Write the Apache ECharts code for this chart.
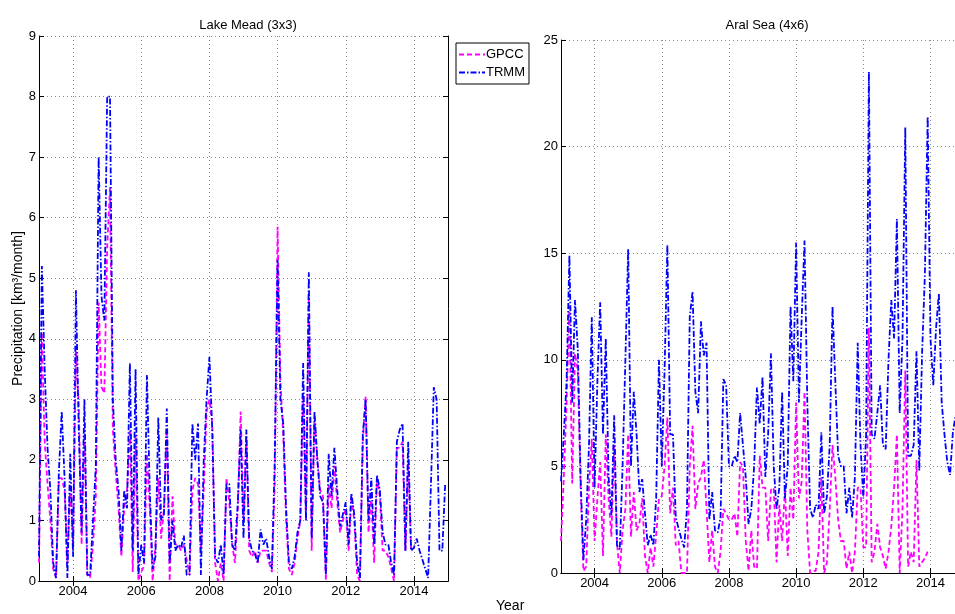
<!DOCTYPE html>
<html>
<head>
<meta charset="utf-8">
<title>Precipitation GPCC vs TRMM</title>
<script src="https://cdn.jsdelivr.net/npm/echarts@6/dist/echarts.min.js"></script>
<style>
  html, body { margin: 0; padding: 0; background: #fff; }
  #chart { width: 955px; height: 614px; }
</style>
</head>
<body>
<div id="chart"></div>
<script>
// monthly series, first value = Jan 2003
const startYear = 2003;
const yearTicks = [2004, 2006, 2008, 2010, 2012, 2014];
const meadTicks = [0, 1, 2, 3, 4, 5, 6, 7, 8, 9];
const aralTicks = [0, 5, 10, 15, 20, 25];

// Lake Mead (3x3)
const meadTrmm = [
  0.4, 5.2, 3.5, 2.2, 1.5, 0.3, 0.05, 1.8, 2.8, 1.7, 0.05, 2.1,
  0.4, 4.8, 2.5, 0.8, 3.0, 0.1, 0.1, 1.0, 1.9, 7.0, 4.7, 4.3,
  8.0, 8.0, 3.0, 2.0, 1.5, 0.5, 1.5, 1.2, 3.6, 0.5, 3.5, 0.1,
  0.6, 0.3, 3.4, 1.5, 0.2, 0.4, 2.7, 1.0, 1.1, 2.85, 0.3, 1.0,
  0.5, 0.6, 0.55, 0.75, 0.1, 0.1, 2.6, 2.0, 2.6, 0.1, 2.0, 3.0,
  3.7, 2.5, 0.4, 0.3, 0.6, 0.1, 1.6, 1.6, 0.6, 0.5, 1.3, 2.5,
  0.7, 2.5, 0.7, 0.5, 0.45, 0.3, 0.85, 0.6, 0.7, 0.4, 0.2, 2.0,
  5.3, 3.0, 2.6, 1.2, 0.3, 0.2, 0.4, 0.8, 1.0, 3.6, 1.0, 5.1,
  0.7, 2.8, 2.0, 1.4, 1.3, 0.1, 2.1, 1.4, 2.2, 1.5, 0.9, 1.1,
  1.3, 0.6, 1.45, 1.1, 0.3, 0.05, 2.4, 3.0, 1.0, 1.7, 0.6, 1.75,
  1.5, 0.8, 0.6, 0.6, 0.3, 0.1, 2.3, 2.5, 2.6, 0.5, 2.3, 0.5,
  0.55, 0.7, 0.5, 0.35, 0.2, 0.05, 1.6, 3.2, 3.0, 0.5, 0.5, 1.6
];
const meadGpcc = [
  0.3, 4.1, 2.3, 1.6, 1.0, 0.2, 0.05, 1.7, 1.7, 1.5, 0.3, 1.6,
  0.6, 3.8, 2.9, 0.6, 2.5, 0.1, 0.05, 0.6, 1.4, 4.6, 3.2, 3.1,
  5.5, 6.5, 2.5, 1.8, 1.2, 0.4, 1.2, 1.5, 2.5, 0.15, 2.4, 0.0,
  0.15, 0.25, 2.1, 1.2, 0.0, 0.6, 1.7, 0.7, 1.2, 2.5, 0.0, 1.4,
  0.6, 0.6, 0.5, 0.6, 0.35, 0.1, 1.5, 1.7, 1.6, 0.5, 1.5, 2.8,
  3.0, 2.6, 0.3, 0.0, 0.3, 0.0, 1.7, 1.3, 0.6, 0.3, 1.2, 2.8,
  1.0, 2.4, 0.5, 0.4, 0.5, 0.3, 0.5, 0.5, 0.5, 0.3, 0.15, 1.6,
  5.85, 3.3, 2.4, 1.0, 0.2, 0.1, 0.3, 0.7, 1.0, 3.1, 1.0, 4.7,
  0.5, 2.7, 2.0, 1.5, 1.4, 0.0, 1.6, 1.2, 1.9, 1.3, 0.8, 1.0,
  1.2, 0.5, 1.4, 1.0, 0.1, 0.0, 2.3, 3.05, 0.8, 1.4, 0.3, 1.7,
  1.4, 0.5, 0.5, 0.4, 0.2, 0.0, 2.2, 2.2, 2.3, 0.5, 2.0, 0.5
];

// Aral Sea (4x6)
const aralTrmm = [
  4.3, 6.5, 9.0, 14.9, 8.0, 12.8, 10.5, 4.5, 0.6, 2.5, 6.0, 12.0,
  4.0, 9.0, 12.7, 6.5, 11.0, 4.5, 2.7, 7.4, 1.3, 1.1, 5.0, 10.0,
  15.2, 5.0, 8.5, 6.5, 3.8, 4.4, 2.8, 1.3, 1.8, 1.3, 3.5, 10.0,
  5.0, 9.5, 15.4, 6.5, 6.5, 2.6, 2.1, 1.6, 1.2, 3.0, 12.0, 13.2,
  8.5, 7.5, 11.8, 10.2, 10.8, 2.5, 3.8, 2.0, 1.9, 2.6, 9.1, 8.8,
  5.0, 5.0, 5.5, 5.2, 7.5, 6.0, 4.5, 2.3, 3.0, 5.0, 8.7, 7.0,
  9.2, 4.5, 6.5, 10.3, 5.0, 3.0, 4.0, 8.5, 3.5, 5.0, 12.5, 9.0,
  15.5, 8.0, 12.0, 15.6, 8.0, 3.0, 2.6, 3.2, 3.0, 6.6, 2.8, 3.6,
  6.0, 12.5, 9.0, 5.5, 5.0, 5.0, 2.8, 4.0, 2.6, 4.5, 10.8, 6.0,
  3.5, 6.5, 23.5, 6.5, 6.3, 7.5, 8.8, 6.0, 5.8, 10.0, 12.8, 11.0,
  16.6, 7.5, 11.0, 20.9, 5.5, 5.5, 6.0, 10.4, 4.8, 10.3, 14.0, 21.4,
  11.0, 8.8, 11.5, 13.1, 8.0, 6.5, 5.2, 4.6, 6.6, 7.4
];
const aralGpcc = [
  1.5, 4.5, 8.0, 12.5, 4.2, 10.3, 9.5, 4.0, 0.1, 0.3, 4.0, 6.3,
  1.5, 3.5, 5.2, 0.8, 6.5, 3.5, 1.7, 6.0, 1.4, 0.0, 2.0, 3.0,
  6.5, 1.7, 3.8, 2.0, 2.3, 3.5, 0.8, 0.0, 1.2, 0.3, 1.8, 3.5,
  3.6, 5.0, 7.3, 2.8, 4.0, 1.3, 1.5, 0.0, 0.0, 0.0, 5.0, 6.9,
  3.0, 4.2, 4.5, 5.3, 3.0, 0.5, 2.0, 0.3, 0.0, 1.0, 3.0, 2.8,
  2.5, 2.5, 2.8, 1.7, 5.2, 5.0, 1.5, 0.1, 2.0, 0.3, 0.2, 5.5,
  4.0, 4.0, 1.5, 3.9, 4.0, 0.5, 3.2, 1.5, 4.0, 0.8, 4.0, 2.5,
  8.0, 3.5, 4.3, 8.5, 2.0, 0.0, 0.1, 0.1, 1.0, 4.5, 0.0, 0.5,
  3.0, 6.0, 4.5, 2.5, 1.5, 1.5, 0.2, 1.0, 0.0, 1.0, 4.0, 4.0,
  1.2, 1.2, 11.5, 0.5, 1.0, 2.3, 1.2, 0.8, 0.2, 1.0, 2.2, 4.0,
  6.5, 0.0, 3.0, 9.5, 0.3, 1.0, 0.5, 5.3, 0.3, 0.5, 0.7, 1.0
];

const FONT = "'Liberation Sans', Arial, Helvetica, sans-serif";
const GPCC_COLOR = '#ff00ff';
const TRMM_COLOR = '#0000ff';
const GPCC_DASH = [5, 3];
const TRMM_DASH = [6, 2, 1.5, 2];

// month index -> decimal year
const toPairs = (values) => values.map((v, i) => [startYear + i / 12, v]);

const gridLine = { show: true, lineStyle: { color: '#8c8c8c', width: 1, type: [1, 3] } };
const blackLine = { show: true, lineStyle: { color: '#000', width: 1 } };

// the Aral Sea axes run past the right edge of the picture, so its x range stops there
const makeXAxis = (gridIndex, position, max) => ({
  type: 'value',
  gridIndex,
  position,
  min: 2003,
  max,
  axisLine: blackLine,
  axisTick: { show: true, inside: true, length: 5, customValues: yearTicks, lineStyle: { color: '#000' } },
  axisLabel: {
    show: position === 'bottom',
    customValues: yearTicks,
    margin: 4,
    color: '#000',
    fontSize: 13,
    fontFamily: FONT,
    formatter: (v) => String(v)
  },
  splitLine: position === 'bottom' ? gridLine : { show: false }
});

const makeYAxis = (gridIndex, position, max, interval, ticks, extra) => Object.assign({
  type: 'value',
  gridIndex,
  position,
  min: 0,
  max,
  interval,
  axisLine: blackLine,
  axisTick: { show: true, inside: true, length: 5, lineStyle: { color: '#000' } },
  axisLabel: {
    show: position === 'left',
    margin: 3,
    color: '#000',
    fontSize: 13,
    fontFamily: FONT,
    formatter: (v) => (ticks.includes(v) ? String(v) : '')
  },
  splitLine: position === 'left' ? gridLine : { show: false }
}, extra || {});

const makeSeries = (name, values, axisIdx, color, dash) => ({
  name,
  type: 'line',
  xAxisIndex: axisIdx,
  yAxisIndex: axisIdx,
  data: toPairs(values),
  symbol: 'none',
  showSymbol: false,
  clip: true,
  animation: false,
  lineStyle: { color, width: 1.8, type: dash },
  itemStyle: { color }
});

const chart = echarts.init(document.getElementById('chart'));

const option = {
  backgroundColor: '#fff',
  animation: false,
  textStyle: { fontFamily: FONT },
  title: [
    { text: 'Lake Mead (3x3)', left: 243, top: 14, textAlign: 'center',
      textStyle: { fontSize: 13, fontWeight: 'normal', color: '#000', fontFamily: FONT } },
    { text: 'Aral Sea (4x6)', left: 762, top: 14, textAlign: 'center',
      textStyle: { fontSize: 13, fontWeight: 'normal', color: '#000', fontFamily: FONT } }
  ],
  legend: {
    data: ['GPCC', 'TRMM'],
    orient: 'vertical',
    left: 456,
    top: 43,
    padding: [5, 4, 5, 2],
    itemGap: 5,
    itemWidth: 26,
    itemHeight: 10,
    borderColor: '#000',
    borderWidth: 1,
    backgroundColor: '#fff',
    selectedMode: false,
    // line legend icons carry a marker; keep only the dashed line
    itemStyle: { color: 'rgba(0,0,0,0)', borderWidth: 0, opacity: 0 },
    textStyle: { fontSize: 13, color: '#000', fontFamily: FONT, padding: [0, 0, 0, -4] }
  },
  grid: [
    { left: 39, right: 507, top: 36, bottom: 33 },
    { left: 561, right: 0, top: 40, bottom: 41 }
  ],
  xAxis: [
    makeXAxis(0, 'bottom', 2015),
    makeXAxis(0, 'top', 2015),
    makeXAxis(1, 'bottom', 2014.73),
    makeXAxis(1, 'top', 2014.73)
  ],
  yAxis: [
    makeYAxis(0, 'left', 9, 1, meadTicks, {
      name: 'Precipitation [km³/month]',
      nameLocation: 'middle',
      nameGap: 12,
      nameTextStyle: { fontSize: 14, color: '#000', fontFamily: FONT }
    }),
    makeYAxis(0, 'right', 9, 1, meadTicks),
    makeYAxis(1, 'left', 25, 5, aralTicks),
    makeYAxis(1, 'right', 25, 5, aralTicks, {
      axisLine: { show: false },
      axisTick: { show: false }
    })
  ],
  series: [
    makeSeries('GPCC', meadGpcc, 0, GPCC_COLOR, GPCC_DASH),
    makeSeries('TRMM', meadTrmm, 0, TRMM_COLOR, TRMM_DASH),
    makeSeries('GPCC', aralGpcc, 2, GPCC_COLOR, GPCC_DASH),
    makeSeries('TRMM', aralTrmm, 2, TRMM_COLOR, TRMM_DASH)
  ],
  graphic: [
    {
      type: 'text',
      left: 496,
      top: 599,
      style: { text: 'Year', font: '14px ' + FONT, fill: '#000' }
    }
  ]
};

chart.setOption(option);
</script>
</body>
</html>
